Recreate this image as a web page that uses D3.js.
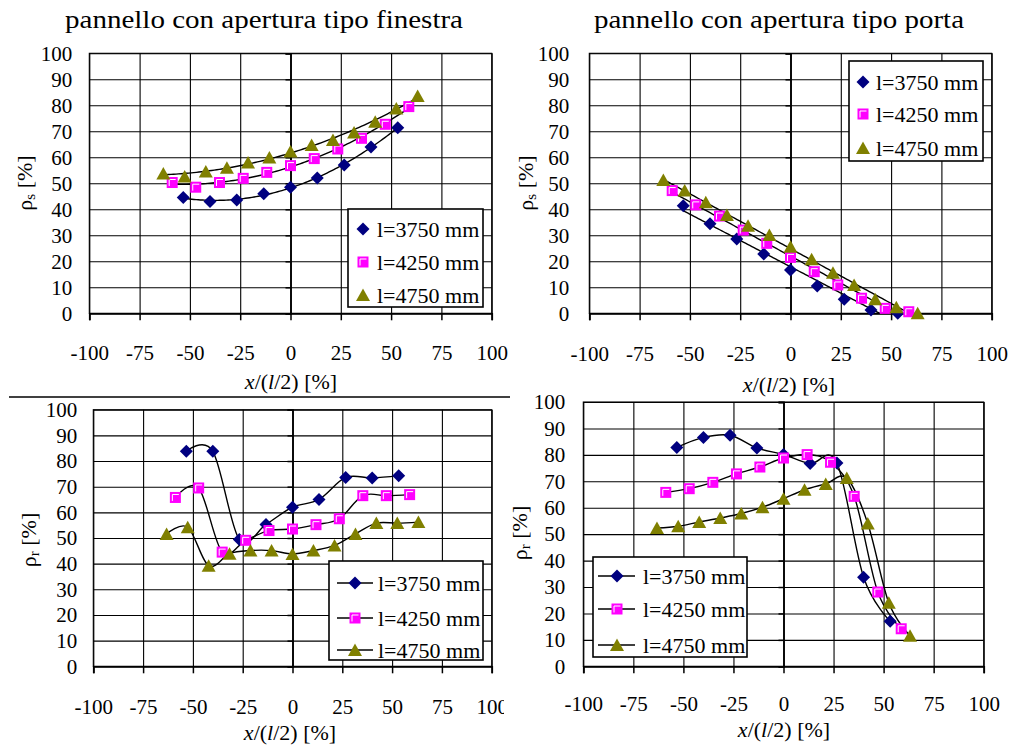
<!DOCTYPE html>
<html><head><meta charset="utf-8">
<script src="https://cdn.jsdelivr.net/npm/d3@7"></script>
<style>html,body{margin:0;padding:0;background:#fff}svg{display:block}</style>
</head><body>
<script>
// ---------- DATA ----------
const xTicks = [-100,-75,-50,-25,0,25,50,75,100];
const yTicks = [0,10,20,30,40,50,60,70,80,90,100];
const seriesNames = ["l=3750 mm","l=4250 mm","l=4750 mm"];
const x3750 = [-53.3,-40,-26.7,-13.3,0,13.3,26.7,40,53.3];
const x4250 = [-58.8,-47.1,-35.3,-23.5,-11.8,0,11.8,23.5,35.3,47.1,58.8];
const x4750 = [-63.2,-52.6,-42.1,-31.6,-21.1,-10.5,0,10.5,21.1,31.6,42.1,52.6,63.2];
// rho_s, pannello tipo finestra
const psFin3750 = [44.5,43,43.6,46,48.5,52,57,64,71.4];
const psFin4250 = [50.3,48.5,50.3,51.9,54.2,56.8,59.5,63.2,67.3,72.7,79.5];
const psFin4750 = [53.8,52.6,54.5,56,58,59.9,62.2,64.7,66.7,69.5,73.7,78.8,83.6];
// rho_s, pannello tipo porta
const psPor3750 = [41.4,34.4,28.6,22.8,16.7,10.5,5.4,1.3,0];
const psPor4250 = [47.2,41.7,37.4,32,26.9,21.5,16,10.9,5.8,1.9,0.6];
const psPor4750 = [51.3,47.2,42.7,37.8,33.7,30.1,25.6,20.8,15.6,10.9,5.4,2.3,0];
// rho_r, pannello tipo finestra
const prFin3750 = [83.8,83.8,49.4,55.3,62,65,73.6,73.4,74.3];
const prFin4250 = [65.8,69.5,44.5,49.1,52.9,53.5,55.2,57.5,66.5,66.5,66.9];
const prFin4750 = [51.6,54.2,39.2,43.9,45.1,45.1,43.8,45.1,47.1,51.6,55.8,55.8,56.2];
// rho_r, pannello tipo porta
const prPor3750 = [82.8,86.6,87.4,82.6,80.1,76.7,76.9,33.7,17];
const prPor4250 = [65.8,67.2,69.6,72.8,75.4,78.8,80.1,77.2,64.3,28.1,14.2];
const prPor4750 = [52.3,53,54.6,56.1,57.8,60.2,63.4,66.8,69,71.2,54,24,11.6];

// ---------- STYLE ----------
const FONT = "'Liberation Serif','Times New Roman',Times,serif";
const colors = ["#000080","#FF00FF","#808000"];
const markers = ["diamond","square","triangle"];

const svg = d3.select("body").append("svg").attr("width",1012).attr("height",746)
  .style("font-family",FONT);

function zip(xs, ys){ return xs.map((v,i)=>({x:v,y:ys[i]})); }

function polyfit(pts, deg){
  const n = deg+1;
  const A = Array.from({length:n},()=>new Array(n+1).fill(0));
  pts.forEach(p=>{
    for(let r=0;r<n;r++){
      for(let c=0;c<n;c++) A[r][c]+=Math.pow(p.x,r+c);
      A[r][n]+=p.y*Math.pow(p.x,r);
    }
  });
  for(let i=0;i<n;i++){
    let m=i; for(let k=i+1;k<n;k++) if(Math.abs(A[k][i])>Math.abs(A[m][i])) m=k;
    [A[i],A[m]]=[A[m],A[i]];
    for(let k=i+1;k<n;k++){ const f=A[k][i]/A[i][i]; for(let c=i;c<=n;c++) A[k][c]-=f*A[i][c]; }
  }
  const co=new Array(n).fill(0);
  for(let i=n-1;i>=0;i--){ let s=A[i][n]; for(let c=i+1;c<n;c++) s-=A[i][c]*co[c]; co[i]=s/A[i][i]; }
  return x=>co.reduce((s,c,i)=>s+c*Math.pow(x,i),0);
}

function drawMarker(g, type, color){
  if(type==="diamond"){
    g.append("path").attr("d","M0,-6.5L6.5,0L0,6.5L-6.5,0Z").attr("fill",color);
  } else if(type==="square"){
    g.append("rect").attr("x",-5.5).attr("y",-5.5).attr("width",11).attr("height",11).attr("fill",color);
    g.append("path").attr("d","M-3,3.5V-3H3.5").attr("fill","none").attr("stroke","#fff").attr("stroke-width",1);
  } else {
    g.append("path").attr("d","M0,-6.5L7,6L-7,6Z").attr("fill",color);
  }
}

function panel(cfg){
  const x = d3.scaleLinear().domain([-100,100]).range([cfg.x0,cfg.x1]);
  const y = d3.scaleLinear().domain([0,100]).range([cfg.yB,cfg.yT]);
  const g = svg.append("g");
  const clipId = "clip"+cfg.id;
  svg.append("clipPath").attr("id",clipId).append("rect")
    .attr("x",cfg.x0).attr("y",cfg.yT).attr("width",cfg.x1-cfg.x0).attr("height",cfg.yB-cfg.yT);
  if(cfg.labelClipX){
    svg.append("clipPath").attr("id","lab"+cfg.id).append("rect")
      .attr("x",0).attr("y",0).attr("width",cfg.labelClipX).attr("height",746);
  }

  // grid
  g.append("g").attr("transform",`translate(0,${cfg.yT})`)
    .call(d3.axisBottom(x).tickValues(xTicks).tickSize(cfg.yB-cfg.yT).tickFormat(""))
    .call(a=>{a.select(".domain").remove(); a.selectAll("line").attr("stroke","#000").attr("stroke-width",1.1);});
  g.append("g").attr("transform",`translate(${cfg.x1},0)`)
    .call(d3.axisLeft(y).tickValues(yTicks).tickSize(cfg.x1-cfg.x0).tickFormat(""))
    .call(a=>{a.select(".domain").remove(); a.selectAll("line").attr("stroke","#000").attr("stroke-width",1.1);});
  g.append("rect").attr("x",cfg.x0).attr("y",cfg.yT).attr("width",cfg.x1-cfg.x0).attr("height",cfg.yB-cfg.yT)
    .attr("fill","none").attr("stroke","#000").attr("stroke-width",1.1);

  // x axis at y=0
  const xa = g.append("g");
  if(cfg.labelClipX) xa.attr("clip-path",`url(#lab${cfg.id})`);
  xa.append("g").attr("transform",`translate(0,${y(0)})`)
    .call(d3.axisBottom(x).tickValues(xTicks).tickSize(7).tickFormat(d=>String(d)))
    .call(a=>{
      a.attr("font-family",null).attr("font-size",null);
      a.select(".domain").attr("stroke","#000").attr("stroke-width",1.8);
      a.selectAll("line").attr("stroke","#000").attr("stroke-width",1.5);
      a.selectAll("text").attr("y",cfg.xlabOff).attr("dy","0.35em")
        .style("font-family",FONT).style("font-size","21px").attr("fill","#000");
    });
  // y axis at x=0 (line + ticks)
  g.append("g").attr("transform",`translate(${x(0)},0)`)
    .call(d3.axisLeft(y).tickValues(yTicks).tickSize(5).tickFormat(""))
    .call(a=>{a.select(".domain").attr("stroke","#000").attr("stroke-width",1.8);
      a.selectAll("line").attr("stroke","#000").attr("stroke-width",1.5);});
  // y labels at left edge
  g.append("g").attr("transform",`translate(${cfg.x0},0)`)
    .call(d3.axisLeft(y).tickValues(yTicks).tickSize(0).tickPadding(cfg.ylabPad))
    .call(a=>{a.attr("font-family",null).attr("font-size",null); a.select(".domain").remove();
      a.selectAll("text").style("font-family",FONT).style("font-size","21px").attr("fill","#000");});

  // y title
  const yt = g.append("text").attr("transform",`translate(${cfg.ytX},${cfg.ytY}) rotate(-90)`)
    .attr("text-anchor","middle").attr("dy","0.35em").style("font-size","22px");
  yt.append("tspan").text("ρ");
  yt.append("tspan").text(cfg.sub).style("font-size","15px").attr("dy","3");
  yt.append("tspan").text(" [%]").attr("dy","-3");

  // x title
  const xt = g.append("text").attr("x",cfg.xtX).attr("y",cfg.xtY).attr("text-anchor","middle")
    .attr("dy","0.35em").style("font-size","22px");
  xt.append("tspan").text("x").style("font-style","italic");
  xt.append("tspan").text("/(");
  xt.append("tspan").text("l").style("font-style","italic");
  xt.append("tspan").text("/2) [%]");

  if(cfg.title){
    g.append("text").attr("x",cfg.titleX).attr("y",28).attr("text-anchor","middle")
      .style("font-size","25px").attr("textLength",cfg.titleW).attr("lengthAdjust","spacingAndGlyphs")
      .text(cfg.title);
  }

  // lines
  const lg = g.append("g").attr("clip-path",`url(#${clipId})`);
  cfg.series.forEach((pts)=>{
    let linePts;
    if(cfg.mode==="smooth"){
      linePts = pts;
      lg.append("path").datum(linePts)
        .attr("d",d3.line().x(d=>x(d.x)).y(d=>y(d.y)).curve(d3.curveCardinal.tension(0)))
        .attr("fill","none").attr("stroke","#000").attr("stroke-width",1.4);
    } else {
      const f = polyfit(pts, cfg.deg);
      const xmin = d3.min(pts,d=>d.x), xmax = d3.max(pts,d=>d.x);
      linePts = d3.range(0,101).map(i=>{const xv=xmin+(xmax-xmin)*i/100; return {x:xv,y:f(xv)};});
      lg.append("path").datum(linePts)
        .attr("d",d3.line().x(d=>x(d.x)).y(d=>y(d.y)))
        .attr("fill","none").attr("stroke","#000").attr("stroke-width",1.4);
    }
  });
  // markers
  cfg.series.forEach((pts,si)=>{
    pts.forEach(p=>{
      const mg = g.append("g").attr("transform",`translate(${x(p.x)},${y(p.y)})`);
      drawMarker(mg, markers[si], colors[si]);
    });
  });

  // legend
  const L = cfg.legend;
  const leg = g.append("g");
  leg.append("rect").attr("x",L.x).attr("y",L.y).attr("width",L.w).attr("height",L.h)
    .attr("fill","#fff").attr("stroke","#000").attr("stroke-width",1.6);
  seriesNames.forEach((nm,i)=>{
    const cy = L.rows[i];
    if(L.line){
      leg.append("line").attr("x1",L.lx1).attr("x2",L.lx2).attr("y1",cy).attr("y2",cy)
        .attr("stroke","#000").attr("stroke-width",1.4);
    }
    const mg = leg.append("g").attr("transform",`translate(${L.mx},${cy})`);
    drawMarker(mg, markers[i], colors[i]);
    leg.append("text").attr("x",L.tx).attr("y",cy).attr("dy","0.35em").style("font-size","22px").text(nm);
  });
}

panel({id:1, x0:89.3, x1:491.7, yT:53.3, yB:313.3, xlabOff:39, ylabPad:17,
  ytX:24, ytY:183, sub:"s", xtX:291, xtY:381, title:"pannello con apertura tipo finestra", titleX:264, titleW:398,
  mode:"fit", deg:2,
  series:[zip(x3750,psFin3750),zip(x4250,psFin4250),zip(x4750,psFin4750)],
  legend:{x:348,y:209,w:135,h:98,rows:[229,262,295],mx:363,tx:377,line:false}});

panel({id:2, x0:589.3, x1:991.7, yT:53.3, yB:313.3, xlabOff:40, ylabPad:20,
  ytX:525, ytY:183, sub:"s", xtX:789, xtY:384, title:"pannello con apertura tipo porta", titleX:779, titleW:370,
  mode:"fit", deg:1,
  series:[zip(x3750,psPor3750),zip(x4250,psPor4250),zip(x4750,psPor4750)],
  legend:{x:849,y:61,w:134,h:100,rows:[82,114,148],mx:863,tx:876,line:false}});

panel({id:3, x0:93.3, x1:491.7, yT:409.7, yB:666.3, xlabOff:40, ylabPad:16,
  ytX:28, ytY:540, sub:"r", xtX:290, xtY:732, labelClipX:504,
  mode:"smooth",
  series:[zip(x3750,prFin3750),zip(x4250,prFin4250),zip(x4750,prFin4750)],
  legend:{x:329,y:561,w:154,h:99,rows:[583,618,650],mx:355,tx:378,lx1:337,lx2:373,line:true}});

panel({id:4, x0:583.3, x1:983.7, yT:402, yB:666.3, xlabOff:37, ylabPad:18,
  ytX:519, ytY:533, sub:"r", xtX:784, xtY:729,
  mode:"smooth",
  series:[zip(x3750,prPor3750),zip(x4250,prPor4250),zip(x4750,prPor4750)],
  legend:{x:593,y:557,w:154,h:100,rows:[576,609,645],mx:617,tx:643,lx1:598,lx2:635,line:true}});

// divider line above lower-left panel
svg.append("line").attr("x1",9).attr("x2",510).attr("y1",397).attr("y2",397)
  .attr("stroke","#000").attr("stroke-width",1.5);
</script>
</body></html>
